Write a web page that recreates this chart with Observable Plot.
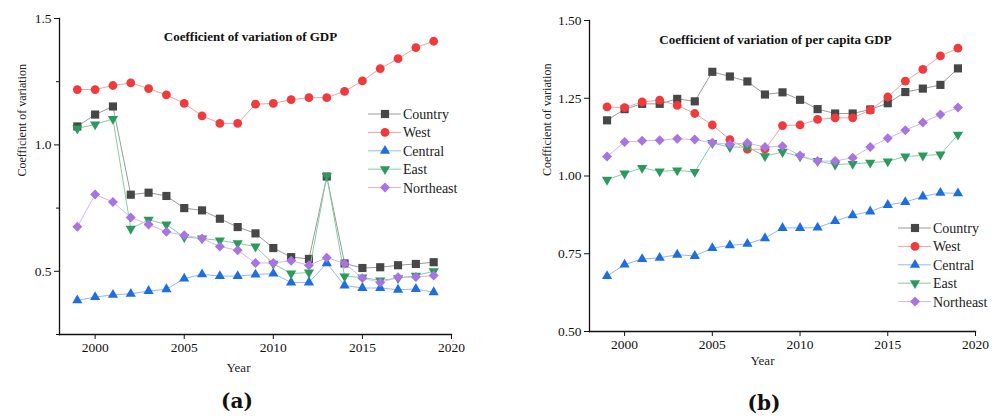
<!DOCTYPE html>
<html>
<head>
<meta charset="utf-8">
<script src="https://cdn.jsdelivr.net/npm/d3@7"></script>
<script src="https://cdn.jsdelivr.net/npm/@observablehq/plot@0.6"></script>
<style>
  html, body { margin: 0; padding: 0; background: #fff; }
  #wrap { position: relative; width: 997px; height: 416px; background: #fff; overflow: hidden; }
  .panel { position: absolute; top: 0; }
  .tag { position: absolute; font-family: 'DejaVu Serif', serif; font-weight: bold; font-size: 20px; color: #111; transform: translate(-50%, -50%); }
  .legend { position: absolute; }
  svg text { font-family: 'Liberation Serif', 'Times New Roman', serif; }
</style>
</head>
<body>
<div id="wrap">
  <div id="a" class="panel" style="left:0px"></div>
  <div id="b" class="panel" style="left:500px"></div>
  <div class="tag" style="left:237px; top:401px">(a)</div>
  <div class="tag" style="left:764px; top:403px">(b)</div>
</div>
<script>
// ---------- data ----------
const years = [1999,2000,2001,2002,2003,2004,2005,2006,2007,2008,2009,2010,2011,2012,2013,2014,2015,2016,2017,2018,2019];
const seriesNames = ["Country","West","Central","East","Northeast"];

// (a) Coefficient of variation of GDP
const gdpCountry   = [1.073,1.120,1.152,0.803,0.811,0.798,0.750,0.741,0.708,0.675,0.650,0.592,0.556,0.549,0.875,0.531,0.513,0.516,0.524,0.529,0.536];
const gdpWest      = [1.219,1.219,1.235,1.245,1.223,1.198,1.164,1.115,1.085,1.085,1.161,1.164,1.179,1.187,1.187,1.212,1.253,1.302,1.341,1.385,1.410];
const gdpCentral   = [0.385,0.398,0.407,0.411,0.422,0.429,0.471,0.488,0.481,0.481,0.487,0.491,0.456,0.456,0.532,0.444,0.434,0.434,0.427,0.430,0.417];
const gdpEast      = [1.065,1.081,1.103,0.668,0.704,0.685,0.635,0.630,0.622,0.611,0.598,0.530,0.491,0.495,0.877,0.480,0.476,0.464,0.473,0.483,0.500];
const gdpNortheast = [0.676,0.804,0.774,0.713,0.685,0.656,0.643,0.630,0.598,0.583,0.533,0.533,0.542,0.524,0.554,0.531,0.473,0.456,0.476,0.477,0.483];

// (b) Coefficient of variation of per capita GDP
const pcCountry   = [1.179,1.215,1.232,1.232,1.248,1.240,1.335,1.320,1.304,1.262,1.269,1.245,1.215,1.201,1.201,1.214,1.234,1.270,1.281,1.293,1.346];
const pcWest      = [1.222,1.220,1.238,1.244,1.227,1.201,1.164,1.117,1.086,1.086,1.162,1.164,1.182,1.187,1.187,1.212,1.254,1.305,1.343,1.386,1.411];
const pcCentral   = [0.678,0.715,0.733,0.737,0.747,0.743,0.768,0.777,0.782,0.800,0.833,0.833,0.834,0.855,0.874,0.886,0.907,0.916,0.934,0.946,0.944];
const pcEast      = [0.988,1.008,1.026,1.015,1.018,1.013,1.106,1.093,1.093,1.064,1.077,1.063,1.048,1.037,1.039,1.043,1.047,1.063,1.066,1.069,1.133];
const pcNortheast = [1.063,1.109,1.113,1.115,1.120,1.117,1.107,1.102,1.106,1.093,1.096,1.066,1.048,1.048,1.059,1.093,1.121,1.147,1.172,1.198,1.220];

const xTicks = [2000,2005,2010,2015,2020];
const yTicksA = [0.5,1.0,1.5];
const yMinorA = [0.25,0.75,1.25];
const yTicksB = [0.50,0.75,1.00,1.25,1.50];

// ---------- styles ----------
const markerColors = ["#474747","#f03a3c","#1d6fe0","#2a9b5c","#a774e2"];
const lineColors   = ["#9a9a9a","#f5a0a0","#93b8ef","#86cda4","#d2b6f2"];
const symbols      = ["square","circle","triangle","triangle","diamond2"];
const rotations    = [0,0,0,180,0];
const radii        = [4.6,4.4,3.8,3.8,4.5];
const FONT = "'Liberation Serif', 'Times New Roman', serif";

function tidy(arrays) {
  const rows = [];
  arrays.forEach((arr, si) => arr.forEach((v, i) => rows.push({series: seriesNames[si], si, year: years[i], value: v})));
  return rows;
}

function makeChart(cfg) {
  const data = tidy(cfg.arrays);
  const marks = [
    Plot.frame({anchor: "left", stroke: "#111", strokeWidth: 1.3}),
    Plot.frame({anchor: "bottom", stroke: "#111", strokeWidth: 1.3}),
    Plot.axisY({ticks: cfg.yTicks, tickFormat: cfg.yFormat, tickSize: 5, tickPadding: 3, label: null, fontSize: 13.5, stroke: "#111"}),
    Plot.axisX({ticks: xTicks, tickFormat: d => String(d), tickSize: 5, tickPadding: 3, label: null, fontSize: 13.5, stroke: "#111"})
  ];
  if (cfg.yMinor) marks.push(Plot.axisY({ticks: cfg.yMinor, tickFormat: () => "", tickSize: 3, label: null, stroke: "#111"}));
  seriesNames.forEach((name, si) => {
    const d = data.filter(r => r.si === si);
    marks.push(Plot.line(d, {x: "year", y: "value", stroke: lineColors[si], strokeWidth: 1}));
    marks.push(Plot.dot(d, {x: "year", y: "value", symbol: () => symbols[si], r: radii[si], fill: markerColors[si], stroke: "none", rotate: rotations[si]}));
  });
  marks.push(Plot.text([cfg.title], {frameAnchor: "top", dx: cfg.titleDx, dy: cfg.titleDy, text: d => d, fontWeight: "bold", fontSize: 13, fill: "#111"}));
  marks.push(Plot.text(["Year"], {frameAnchor: "bottom", dx: cfg.yearDx, dy: cfg.yearDy, text: d => d, fontSize: 13, fill: "#222"}));
  marks.push(Plot.text(["Coefficient of variation"], {frameAnchor: "left", dx: cfg.ylabDx, text: d => d, rotate: -90, fontSize: 12, fill: "#222"}));
  const chart = Plot.plot({
    width: cfg.width, height: cfg.height,
    marginLeft: cfg.mL, marginRight: cfg.mR, marginTop: cfg.mT, marginBottom: cfg.mB,
    x: {domain: [1998, 2020]},
    y: {domain: cfg.yDomain},
    symbol: {type: "identity"},
    style: {fontFamily: FONT, fontSize: "13.5px", color: "#111", background: "transparent", overflow: "visible"},
    marks
  });
  document.querySelector(cfg.el).appendChild(chart);
}

function makeLegend(cfg) {
  const rowH = 18.4;
  const w = 140, h = rowH * seriesNames.length + 10;
  const svg = d3.select("#wrap").append("svg")
    .attr("class", "legend")
    .attr("width", w).attr("height", h)
    .style("left", cfg.left + "px").style("top", cfg.top + "px");
  const symMap = {square: d3.symbolSquare, circle: d3.symbolCircle, triangle: d3.symbolTriangle, diamond2: d3.symbolDiamond2};
  seriesNames.forEach((name, si) => {
    const y = 8 + si * rowH;
    const g = svg.append("g").attr("transform", `translate(0,${y})`);
    g.append("line").attr("x1", 0).attr("x2", 33).attr("y1", 0).attr("y2", 0)
      .attr("stroke", lineColors[si]).attr("stroke-width", 1);
    const size = Math.PI * radii[si] * radii[si];
    if (symbols[si] === "circle") {
      g.append("circle").attr("cx", 17).attr("cy", 0).attr("r", radii[si]).attr("fill", markerColors[si]);
    } else {
      g.append("path").attr("d", d3.symbol(symMap[symbols[si]], size)())
        .attr("transform", `translate(17,0) rotate(${rotations[si]})`)
        .attr("fill", markerColors[si]);
    }
    g.append("text").attr("x", 35).attr("y", 0).attr("dy", "0.35em")
      .style("font-family", FONT).attr("font-size", 14).attr("fill", "#222").text(name);
  });
}

makeChart({
  el: "#a", width: 498, height: 380, mL: 59, mR: 47, mT: 18, mB: 46,
  yDomain: [0.25, 1.5], yTicks: yTicksA, yMinor: yMinorA, yFormat: d3.format(".1f"),
  arrays: [gdpCountry, gdpWest, gdpCentral, gdpEast, gdpNortheast],
  title: "Coefficient of variation of GDP", titleDx: -5, titleDy: 13,
  yearDx: -17, yearDy: 37, ylabDx: -37
});
makeChart({
  el: "#b", width: 497, height: 380, mL: 89, mR: 22, mT: 20, mB: 49,
  yDomain: [0.5, 1.5], yTicks: yTicksB, yMinor: null, yFormat: d3.format(".2f"),
  arrays: [pcCountry, pcWest, pcCentral, pcEast, pcNortheast],
  title: "Coefficient of variation of per capita GDP", titleDx: -7, titleDy: 14,
  yearDx: -20, yearDy: 33, ylabDx: -42
});
makeLegend({left: 368, top: 106});
makeLegend({left: 898, top: 220});
</script>
</body>
</html>
